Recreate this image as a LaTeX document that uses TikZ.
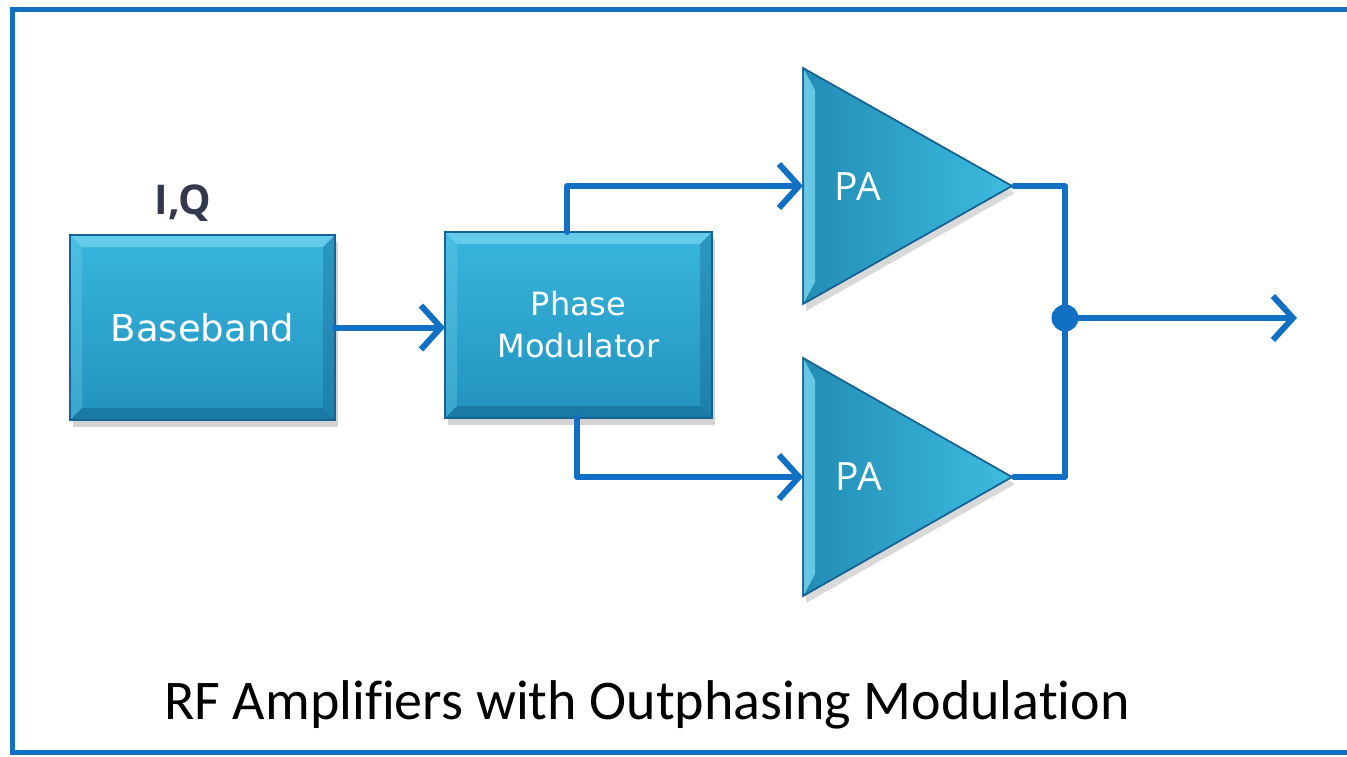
\documentclass[tikz,border=0pt]{standalone}
\usepackage{fontspec}
\usetikzlibrary{arrows.meta,calc,shadows}
\newfontfamily\boxfont{DejaVu Sans}
\newfontfamily\pafont{Open Sans}
\newfontfamily\capfont[Ligatures=NoCommon]{Carlito}
\definecolor{wire}{RGB}{18,112,196}
\definecolor{tealtop}{RGB}{56,182,222}
\definecolor{tealbot}{RGB}{34,146,190}
\definecolor{tealedge}{RGB}{22,100,150}
\definecolor{bevlight}{RGB}{120,214,240}
\definecolor{bevdark}{RGB}{20,96,140}
\definecolor{trileft}{RGB}{34,140,180}
\definecolor{triright}{RGB}{62,188,224}
\definecolor{labelgray}{RGB}{52,56,78}
\begin{document}
\begin{tikzpicture}[x=1pt,y=-1pt,
  block/.style={rectangle, draw=tealedge, line width=1.5pt, outer sep=0pt, inner sep=0pt,
    top color=tealtop, bottom color=tealbot,
    drop shadow={shadow xshift=3pt, shadow yshift=-7pt, opacity=0.35}},
  amp/.style={draw=tealedge, line width=1.5pt, line join=miter, left color=trileft, right color=triright,
    drop shadow={shadow xshift=3pt, shadow yshift=-7pt, opacity=0.3}},
  boxtext/.style={text=white, font=\boxfont, align=center},
  patext/.style={text=white, font=\pafont\fontsize{39}{42}\selectfont},
  wireline/.style={draw=wire, line width=6pt, line cap=round, line join=round},
  arr/.style={wireline, -{Straight Barb[length=20pt,width=44pt]}}]
\useasboundingbox (0,0) rectangle (1347,757);
\clip (0,0) rectangle (1347,757);

% outer frame: its right side runs off the page
\draw[wire, line width=5pt, line join=miter] (1400,10) -- (12,10) -- (12,752) -- (1400,752);

% blocks
\node[block, minimum width=265pt, minimum height=185pt] (bb) at (202.5,327.5) {};
\node[block, minimum width=267pt, minimum height=186pt] (pm) at (578.5,325) {};

% bevel edges of the blocks
\foreach \n in {bb,pm} {
  \fill[bevlight, opacity=0.7] (\n.north west) -- (\n.north east) -- ($(\n.north east)+(-12,12)$) -- ($(\n.north west)+(12,12)$) -- cycle;
  \fill[bevlight, opacity=0.3] (\n.north west) -- ($(\n.north west)+(12,12)$) -- ($(\n.south west)+(12,-12)$) -- (\n.south west) -- cycle;
  \fill[bevdark, opacity=0.5] (\n.south west) -- (\n.south east) -- ($(\n.south east)+(-12,-12)$) -- ($(\n.south west)+(12,-12)$) -- cycle;
  \fill[bevdark, opacity=0.35] (\n.north east) -- ($(\n.north east)+(-12,12)$) -- ($(\n.south east)+(-12,-12)$) -- (\n.south east) -- cycle;
  \draw[tealedge, line width=2pt] (\n.north west) rectangle (\n.south east);
}

\node[boxtext, font=\boxfont\fontsize{37}{40}\selectfont] (bbtext) at (bb) {Baseband};
\node[boxtext, font=\boxfont\fontsize{32}{42}\selectfont] (pmtext) at (pm) {Phase\\Modulator};
\node[text=labelgray, font=\pafont\bfseries\fontsize{41}{44}\selectfont] (iq) at (183,203) {I,Q};

% amplifiers
\coordinate (pa1in) at (803,186);
\coordinate (pa1out) at (1012,186);
\coordinate (pa2in) at (803,477);
\coordinate (pa2out) at (1012,477);
\foreach \a/\yt/\yb in {1/68/304, 2/358/596} {
  \path[amp] (803,\yt) -- (pa\a out) -- (803,\yb) -- cycle;
  \fill[bevlight, opacity=0.8] (803,\yt) -- (815,\yt+22) -- (815,\yb-22) -- (803,\yb) -- cycle;
  \draw[tealedge, line width=1.5pt, line join=miter] (803,\yt) -- (pa\a out) -- (803,\yb) -- cycle;
}
\node[patext] (pa1) at (858,187) {PA};
\node[patext] (pa2) at (859,477) {PA};

% signal wires
\draw[arr] (bb.east) -- (bb.east -| pm.west);
\draw[arr] ([xshift=-11.5pt]pm.north) |- (pa1in);
\draw[arr] ([xshift=-1.5pt]pm.south) |- (pa2in);
\coordinate (join) at (1065,318);
\coordinate (out) at (1297,318);
\draw[wireline] ([xshift=2pt]pa1out) -| (join) |- ([xshift=2pt]pa2out);
\node[circle, fill=wire, minimum size=27pt, inner sep=0pt] (dot) at (join) {};
\draw[arr] (dot.center) -- (out);

% caption
\node[font=\capfont\fontsize{56}{62}\selectfont] (caption) at (647,705) {RF Amplifiers with Outphasing Modulation};
\end{tikzpicture}
\end{document}
